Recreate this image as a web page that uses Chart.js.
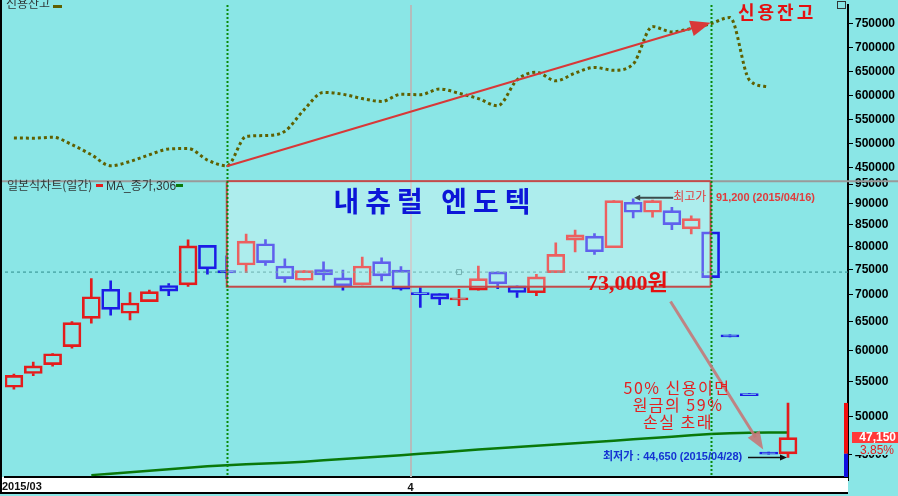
<!DOCTYPE html>
<html>
<head>
<meta charset="utf-8">
<script src="https://cdn.jsdelivr.net/npm/chart.js@4.4.1/dist/chart.umd.min.js"></script>
<style>
html, body { margin: 0; padding: 0; background: #8ae6e6; }
</style>
</head>
<body>
<canvas id="chart" width="898" height="496"></canvas>
<script>
// 거래일 (2015/03/03 ~ 2015/04/28)
var dates = ['03/03','03/04','03/05','03/06','03/09','03/10','03/11','03/12','03/13','03/16',
  '03/17','03/18','03/19','03/20','03/23','03/24','03/25','03/26','03/27','03/30','03/31',
  '04/01','04/02','04/03','04/06','04/07','04/08','04/09','04/10','04/13','04/14','04/15',
  '04/16','04/17','04/20','04/21','04/22','04/23','04/24','04/27','04/28'];

// 일봉 시가/고가/저가/종가
var opens  = [54200,56300,57700,60650,65550,71050,66500,68650,71800,71900,80200,74800,75980,80560,75770,72840,75010,73320,71900,76680,74900,
  70400,70220,69000,70870,74540,71720,70360,74400,81380,82280,79680,90350,87890,88290,83950,83260,62650,53250,45300,45100];
var highs  = [56200,58100,59500,65000,73200,72700,70400,70900,72180,81450,80200,77900,82740,81520,77300,74800,76620,74900,77670,77520,75620,
  71400,70220,71050,75770,74540,71720,74050,80790,83660,82840,90740,91200,90900,89110,87000,83260,62650,53250,45300,51900];
var lows   = [53900,55950,57450,60400,64700,66150,65300,68650,69780,71600,74050,73180,74400,75900,72380,72840,72840,70870,71900,72710,70870,
  67570,68080,67890,70870,71160,69450,69780,74400,78760,78230,79680,86520,86700,83790,82800,73380,62300,52950,45050,44650];
var closes = [56000,57500,59450,64800,69600,67200,68400,70600,70670,80100,75150,74340,81170,76470,73180,74800,73930,71720,75770,73720,71050,
  70000,69130,69400,73180,72120,70410,73520,78230,82580,78810,90740,87890,90740,84950,86360,73380,62300,52950,45050,47150];

// 신용잔고 (03/03 ~ 04/27)
var credit = [512000,511500,513500,498000,477000,454000,463000,477000,489000,490000,466000,454000,515000,517000,526000,571000,
  607000,603000,594000,588000,603000,602000,614000,605000,594000,579000,633000,649000,631000,647000,659000,653000,666000,
  744000,733000,740000,750000,763000,633000,618000];

// MA_종가,306 (03/09 부터)
var ma306 = [42520,42690,42860,43040,43210,43390,43570,43690,43810,43900,44010,44130,44290,44470,44610,44770,44930,
  45100,45260,45450,45630,45800,45950,46110,46260,46430,46590,46770,46940,47100,47280,47460,47630,47730,47800,47840,47840];
var maStart = 4;

var refPrice = 74500;      // 기준선
var boxLow = 71550;        // 박스 하단
var topTicks = [450000,500000,550000,600000,650000,700000,750000];
var botTicks = [45000,50000,55000,60000,65000,70000,75000,80000,85000,90000,95000];

var RED = '#e41c1c', BLUE = '#1c1ce6';
function candleColor(i) { return closes[i] >= opens[i] ? RED : BLUE; }

function arrow(ctx, x1, y1, x2, y2, len, half, color, lw) {
  var a = Math.atan2(y2 - y1, x2 - x1);
  ctx.strokeStyle = color; ctx.fillStyle = color; ctx.lineWidth = lw;
  ctx.beginPath(); ctx.moveTo(x1, y1);
  ctx.lineTo(x2 - Math.cos(a) * len * 0.8, y2 - Math.sin(a) * len * 0.8); ctx.stroke();
  ctx.beginPath(); ctx.moveTo(x2, y2);
  ctx.lineTo(x2 - Math.cos(a) * len - Math.sin(a) * half, y2 - Math.sin(a) * len + Math.cos(a) * half);
  ctx.lineTo(x2 - Math.cos(a) * len + Math.sin(a) * half, y2 - Math.sin(a) * len - Math.cos(a) * half);
  ctx.closePath(); ctx.fill();
}

var deco = {
  id: 'deco',
  beforeDraw: function(chart) {
    var ctx = chart.ctx, a = chart.chartArea;
    ctx.save();
    ctx.fillStyle = '#8ae6e6';
    ctx.fillRect(0, 0, chart.width, chart.height);
    ctx.fillStyle = '#ffffff';
    ctx.fillRect(0, a.bottom, a.right, 16);
    ctx.restore();
  },
  beforeDatasetsDraw: function(chart) {
    var ctx = chart.ctx, a = chart.chartArea, x = chart.scales.x;
    ctx.save();
    // 월 경계선
    ctx.strokeStyle = '#b4bcbc'; ctx.lineWidth = 2;
    var mx = Math.round(x.getPixelForValue(20.5));
    ctx.beginPath(); ctx.moveTo(mx, a.top); ctx.lineTo(mx, a.bottom); ctx.stroke();
    ctx.restore();
  },
  afterDatasetsDraw: function(chart) {
    var ctx = chart.ctx, a = chart.chartArea, x = chart.scales.x;
    var yT = chart.scales.yTop, yB = chart.scales.yBot;
    ctx.save();

    // 박스
    var bx1 = x.getPixelForValue(11), bx2 = x.getPixelForValue(36);
    var by1 = yB.top, by2 = yB.getPixelForValue(boxLow);
    ctx.fillStyle = 'rgba(255,255,255,0.3)';
    ctx.fillRect(bx1, by1, bx2 - bx1, by2 - by1);
    ctx.strokeStyle = '#c44a4a'; ctx.lineWidth = 2;
    ctx.strokeRect(bx1, by1, bx2 - bx1, by2 - by1);

    // 패널 구분선
    ctx.strokeStyle = '#9a9a9a'; ctx.lineWidth = 2;
    ctx.beginPath(); ctx.moveTo(0, yT.bottom); ctx.lineTo(bx1, yT.bottom);
    ctx.moveTo(bx2, yT.bottom); ctx.lineTo(chart.width, yT.bottom); ctx.stroke();

    // 녹색 점선
    ctx.strokeStyle = '#0a8a0a'; ctx.lineWidth = 2; ctx.setLineDash([2, 2]);
    [11, 36].forEach(function(i) {
      var px = Math.round(x.getPixelForValue(i)) + 0.5;
      ctx.beginPath(); ctx.moveTo(px, a.top); ctx.lineTo(px, a.bottom); ctx.stroke();
    });
    ctx.setLineDash([]);

    // 신용잔고 화살표
    arrow(ctx, x.getPixelForValue(11), yT.getPixelForValue(453000),
      x.getPixelForValue(36), yT.getPixelForValue(752000), 20, 8, '#d83838', 2);
    // 하락 화살표
    arrow(ctx, x.getPixelForValue(33.93), yB.getPixelForValue(68700),
      x.getPixelForValue(38.72), yB.getPixelForValue(45650), 18, 7, 'rgba(196,120,120,0.9)', 3);

    // 최고가 / 최저가
    var hy = yB.getPixelForValue(91200);
    arrow(ctx, x.getPixelForValue(32) + 40, hy - 1, x.getPixelForValue(32) + 1, hy - 1, 6, 3, '#3c4c4c', 2);
    ctx.textBaseline = 'middle'; ctx.textAlign = 'left';
    ctx.fillStyle = '#e03c3c';
    ctx.font = "12px 'Noto Sans CJK KR'";
    ctx.fillText('최고가', x.getPixelForValue(32) + 40, hy - 2);
    ctx.font = "bold 11px 'Liberation Sans', 'Noto Sans CJK KR'";
    ctx.fillText(': 91,200 (2015/04/16)', x.getPixelForValue(32) + 76, hy - 1);
    var ly = yB.getPixelForValue(44650);
    ctx.fillStyle = '#1432d2';
    ctx.fillText('최저가 : 44,650 (2015/04/28)', 603, ly);
    arrow(ctx, 748, ly, x.getPixelForValue(40) - 1, ly, 7, 3, '#101010', 1.5);

    // 종목명
    ctx.fillStyle = '#0c16d8';
    ctx.font = "bold 28px 'Noto Sans CJK KR'";
    ctx.letterSpacing = '6px';
    ctx.textAlign = 'center';
    ctx.fillText('내츄럴 엔도텍', 435, 201);

    ctx.fillStyle = '#e41010';
    ctx.font = "bold 18px 'Noto Sans CJK KR'";
    ctx.letterSpacing = '3px';
    ctx.textAlign = 'left';
    ctx.fillText('신용잔고', 738, 12);

    ctx.letterSpacing = '0px';
    ctx.font = "bold 22px 'Liberation Serif', 'Noto Sans CJK KR'";
    ctx.textBaseline = 'alphabetic';
    ctx.fillText('73,000원', 587, 290);

    ctx.fillStyle = '#e42020';
    ctx.font = "16px 'Noto Sans CJK KR'";
    ctx.letterSpacing = '1.5px';
    ctx.textAlign = 'center'; ctx.textBaseline = 'middle';
    ctx.fillText('50% 신용이면', 677, 388);
    ctx.fillText('원금의 59%', 678, 405);
    ctx.fillText('손실 초래', 678, 422);
    ctx.letterSpacing = '0px';

    // 범례
    ctx.textAlign = 'left'; ctx.textBaseline = 'alphabetic';
    ctx.font = "12px 'Noto Sans CJK KR'";
    ctx.fillStyle = '#303838';
    ctx.fillText('신용잔고', 6, 8);
    ctx.fillStyle = '#5f6000'; ctx.fillRect(53, 5, 9, 3);
    ctx.fillStyle = '#303838';
    ctx.fillText('일본식차트(일간)', 7, 190);
    ctx.fillStyle = '#e41c1c'; ctx.fillRect(96, 184, 7, 3);
    ctx.fillStyle = '#303838';
    ctx.font = "12px 'Liberation Sans', 'Noto Sans CJK KR'";
    ctx.fillText('MA_종가,306', 106, 190);
    ctx.fillStyle = '#0a7a0a'; ctx.fillRect(176, 184, 7, 3);

    // 우측 현재가 막대
    ctx.fillStyle = '#f01010';
    ctx.fillRect(844, yB.getPixelForValue(51900), 4, yB.getPixelForValue(45100) - yB.getPixelForValue(51900));
    ctx.fillStyle = '#1010e0';
    ctx.fillRect(844, yB.getPixelForValue(45100), 4, a.bottom - yB.getPixelForValue(45100));

    // 현재가 표시
    ctx.fillStyle = '#ff3838';
    ctx.fillRect(852, 432, 46, 11);
    ctx.fillStyle = '#ffffff';
    ctx.font = "bold 12px 'Liberation Sans'";
    ctx.textAlign = 'right'; ctx.textBaseline = 'middle';
    ctx.fillText('47,150', 896, 438);
    ctx.fillStyle = '#8ae6e6';
    ctx.fillRect(852, 444, 46, 11);
    ctx.fillStyle = '#e02020';
    ctx.font = "12px 'Liberation Sans'";
    ctx.fillText('3.85%', 894, 451);

    // 날짜
    ctx.fillStyle = '#101010';
    ctx.font = "bold 11px 'Liberation Sans'";
    ctx.textAlign = 'left';
    ctx.fillText('2015/03', 2, 487);

    // 테두리
    ctx.fillStyle = '#000';
    ctx.fillRect(0, 0, 2, a.bottom + 16);
    ctx.fillRect(0, a.bottom + 15, a.right, 2);
    ctx.strokeStyle = '#333'; ctx.lineWidth = 1;
    ctx.strokeRect(837.5, 1.5, 8, 7);
    ctx.restore();
  }
};

new Chart(document.getElementById('chart'), {
  type: 'bar',
  data: {
    datasets: [
      {
        type: 'line', yAxisID: 'yTop', label: '신용잔고',
        data: credit.map(function(v, i) { return { x: i, y: v }; }),
        borderColor: '#5f6000', borderWidth: 3, borderDash: [3, 3],
        cubicInterpolationMode: 'monotone', pointRadius: 0, fill: false
      },
      {
        type: 'line', yAxisID: 'yBot', label: '기준',
        data: [{ x: -0.46, y: refPrice }, { x: 43.1, y: refPrice }],
        borderColor: '#2e8c8c', borderWidth: 1, borderDash: [3, 3], pointRadius: 0
      },
      {
        type: 'line', yAxisID: 'yBot', label: 'mark',
        data: [{ x: 23, y: refPrice }],
        showLine: false, pointStyle: 'rect', pointRadius: 3.5,
        pointBorderColor: '#3a9090', pointBackgroundColor: 'rgba(0,0,0,0)', pointBorderWidth: 1
      },
      {
        type: 'bar', yAxisID: 'yBot', label: 'wickHigh', grouped: false, barThickness: 2,
        data: dates.map(function(d, i) { return { x: i, y: [Math.max(opens[i], closes[i]), highs[i]] }; }),
        backgroundColor: dates.map(function(d, i) { return candleColor(i); }), borderWidth: 0
      },
      {
        type: 'bar', yAxisID: 'yBot', label: 'wickLow', grouped: false, barThickness: 2,
        data: dates.map(function(d, i) { return { x: i, y: [lows[i], Math.min(opens[i], closes[i])] }; }),
        backgroundColor: dates.map(function(d, i) { return candleColor(i); }), borderWidth: 0
      },
      {
        type: 'bar', yAxisID: 'yBot', label: '일본식차트(일간)', grouped: false, barThickness: 18,
        data: dates.map(function(d, i) { return { x: i, y: [opens[i], closes[i]] }; }),
        backgroundColor: 'rgba(0,0,0,0)',
        borderColor: dates.map(function(d, i) { return candleColor(i); }),
        borderWidth: 2, borderSkipped: false
      },
      {
        type: 'line', yAxisID: 'yBot', label: 'MA_종가,306',
        data: ma306.map(function(v, i) { return { x: i + maStart, y: v }; }),
        borderColor: '#0a780a', borderWidth: 2.5, pointRadius: 0, fill: false
      }
    ]
  },
  options: {
    responsive: false,
    animation: false,
    layout: { padding: { left: 2, top: 0, right: 0, bottom: 0 } },
    plugins: { legend: { display: false }, tooltip: { enabled: false } },
    scales: {
      x: {
        type: 'linear', min: -0.46, max: 43.1, offset: false,
        grid: { drawOnChartArea: false, color: '#000', tickLength: 4 },
        border: { color: '#000', width: 2 },
        ticks: { color: '#101010', font: { family: 'Liberation Sans', size: 11, weight: 'bold' }, padding: 0,
          autoSkip: false, callback: function(v) { return v === 20.5 ? '4' : ''; } },
        afterBuildTicks: function(s) { s.ticks = [{ value: 20.5 }]; },
        afterFit: function(s) { s.height = 19; s.paddingLeft = 0; s.paddingRight = 0; }
      },
      yTop: {
        type: 'linear', position: 'right', stack: 'panel', stackWeight: 178,
        min: 422000, max: 789000,
        grid: { drawOnChartArea: false, color: '#000', tickLength: 5 },
        border: { color: '#000', width: 2 },
        ticks: { color: '#000', padding: 2, autoSkip: false,
          font: { family: 'Liberation Sans', size: 12, weight: 'bold' },
          callback: function(v) { return String(v); } },
        afterBuildTicks: function(s) { s.ticks = topTicks.map(function(v) { return { value: v }; }); },
        afterFit: function(s) { s.width = 50; s.paddingTop = 0; s.paddingBottom = 0; }
      },
      yBot: {
        type: 'logarithmic', position: 'right', stack: 'panel', stackWeight: 299,
        min: 42300, max: 95780,
        grid: { drawOnChartArea: false, color: '#000', tickLength: 5 },
        border: { color: '#000', width: 2 },
        ticks: { color: '#000', padding: 2, autoSkip: false,
          font: { family: 'Liberation Sans', size: 12, weight: 'bold' },
          callback: function(v) { return String(v); } },
        afterBuildTicks: function(s) { s.ticks = botTicks.map(function(v) { return { value: v }; }); },
        afterFit: function(s) { s.width = 50; s.paddingTop = 0; s.paddingBottom = 0; }
      }
    }
  },
  plugins: [deco]
});
</script>
</body>
</html>
